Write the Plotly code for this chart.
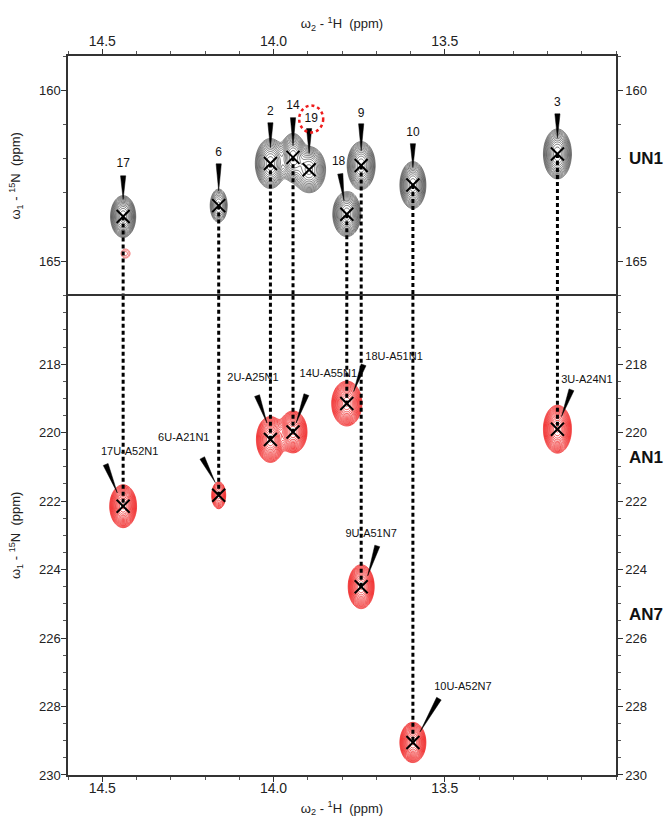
import numpy as np
import plotly.graph_objects as go

# ---------------- data ----------------
# 1H / 15N peak positions (ppm), top panel (UN1) and bottom panel (AN1 / AN7)
top_ids = ["17", "6", "2", "14", "19", "18", "9", "10", "3"]
top_h = [14.439, 14.160, 14.009, 13.943, 13.896, 13.786, 13.744, 13.593, 13.171]
top_n = [163.69, 163.37, 162.14, 161.96, 162.32, 163.62, 162.20, 162.77, 161.86]
top_sx = [0.0150, 0.0126, 0.0180, 0.0155, 0.0200, 0.0167, 0.0167, 0.0155, 0.0167]
top_sy = [0.250, 0.245, 0.298, 0.286, 0.280, 0.268, 0.286, 0.280, 0.298]
top_amp = [1.0, 0.35, 1.0, 1.0, 0.9, 1.0, 1.0, 1.0, 1.0]
top_lbl_h = [14.439, 14.160, 14.009, 13.943, 13.890, 13.810, 13.744, 13.593, 13.171]
top_lbl_n = [162.14, 161.82, 160.65, 160.45, 160.84, 162.11, 160.68, 161.25, 160.36]
top_ptr_h0 = [14.439, 14.160, 14.009, 13.943, 13.896, 13.805, 13.744, 13.593, 13.171]
top_ptr_n0 = [162.50, 162.15, 160.95, 160.80, 161.12, 162.44, 160.98, 161.56, 160.69]
top_ptr_h1 = [14.439, 14.160, 14.009, 13.943, 13.896, 13.794, 13.744, 13.593, 13.171]
top_ptr_n1 = [163.19, 162.94, 161.68, 161.62, 161.85, 163.23, 161.77, 162.26, 161.39]

# weak red artefact seen in the top panel
art_h = [14.432]
art_n = [164.77]

bot_ids = ["17U-A52N1", "6U-A21N1", "2U-A25N1", "14U-A55N1", "18U-A51N1",
           "9U-A51N7", "10U-A52N7", "3U-A24N1"]
bot_h = [14.439, 14.160, 14.009, 13.943, 13.786, 13.744, 13.593, 13.171]
bot_n = [222.15, 221.83, 220.20, 219.98, 219.15, 224.50, 229.05, 219.90]
bot_sx = [0.0160, 0.0108, 0.0167, 0.0167, 0.0180, 0.0155, 0.0155, 0.0167]
bot_sy = [0.256, 0.208, 0.274, 0.250, 0.268, 0.262, 0.240, 0.286]
bot_amp = [1.0, 0.30, 1.0, 1.0, 1.0, 1.0, 1.0, 1.0]
bot_lbl_h = [14.420, 14.262, 14.060, 13.840, 13.648, 13.715, 13.447, 13.085]
bot_lbl_n = [220.58, 220.17, 218.40, 218.31, 217.79, 222.97, 227.43, 218.46]
bot_ptr_h0 = [14.490, 14.208, 14.048, 13.904, 13.737, 13.697, 13.517, 13.130]
bot_ptr_n0 = [220.93, 220.74, 218.92, 218.89, 218.02, 223.31, 227.77, 218.75]
bot_ptr_h1 = [14.456, 14.170, 14.019, 13.934, 13.766, 13.725, 13.572, 13.159]
bot_ptr_n1 = [221.76, 221.46, 219.72, 219.72, 218.80, 224.18, 228.74, 219.53]

# top-panel peaks that connect to a bottom-panel peak (index top -> index bottom)
links_top = [0, 1, 2, 3, 5, 6, 7, 8]
links_bot = [0, 1, 2, 3, 4, 5, 6, 7]

# highlighted label (dashed red circle)
circ_h, circ_n = 13.890, 160.84

x_range = [14.6, 13.0]
top_range = [166.0, 159.0]
bot_range = [230.0, 216.0]
x_ticks = [14.5, 14.0, 13.5]
top_ticks = [160, 165]
bot_ticks = [218, 220, 222, 224, 226, 228, 230]
side_labels = ["UN1", "AN1", "AN7"]
side_label_n = [162.0, 220.73, 225.3]

# ---------------- layout geometry ----------------
W, H = 665, 821
ML, MR, MT, MB = 68, 49, 56, 46
PW, PH = W - ML - MR, H - MT - MB
ppx = PW / abs(x_range[0] - x_range[1])                       # px per ppm (1H)
ppy = PH / (abs(top_range[0] - top_range[1]) + abs(bot_range[0] - bot_range[1]))
split = abs(bot_range[0] - bot_range[1]) / (abs(top_range[0] - top_range[1]) + abs(bot_range[0] - bot_range[1]))

FONT = "Liberation Sans, Arial, Helvetica, sans-serif"


def field(xs, ys, hs, ns, sxs, sys_, amps):
    X, Y = np.meshgrid(xs, ys)
    I = np.zeros_like(X)
    for h, n, sx, sy, a in zip(hs, ns, sxs, sys_, amps):
        I += a * np.exp(-((X - h) ** 2 / (2 * sx ** 2) + (Y - n) ** 2 / (2 * sy ** 2)))
    return np.log10(np.maximum(I, 1e-8))


def wedges(h0, n0, h1, n1, half=2.6):
    xs, ys = [], []
    for a, b, c, d in zip(h0, n0, h1, n1):
        dx = -(c - a) * ppx
        dy = (d - b) * ppy
        L = (dx ** 2 + dy ** 2) ** 0.5
        nx, ny = -dy / L, dx / L
        xs += [a - nx * half / ppx, a + nx * half / ppx, c, a - nx * half / ppx, None]
        ys += [b + ny * half / ppy, b - ny * half / ppy, d, b + ny * half / ppy, None]
    return xs, ys


fig = go.Figure()

xs = np.linspace(x_range[0], x_range[1], 520)
ys_top = np.linspace(top_range[1], top_range[0], 260)
ys_bot = np.linspace(bot_range[1], bot_range[0], 520)

dash = "4px,3px"

# dashed connection lines
lx, ly, bx, by = [], [], [], []
for it, ib in zip(links_top, links_bot):
    lx += [top_h[it], top_h[it], None]
    ly += [top_n[it], top_range[0], None]
    bx += [bot_h[ib], bot_h[ib], None]
    by += [bot_range[1], bot_n[ib], None]
fig.add_trace(go.Scatter(x=lx, y=ly, mode="lines", xaxis="x", yaxis="y",
                         line=dict(color="black", width=3, dash=dash), hoverinfo="skip"))
fig.add_trace(go.Scatter(x=bx, y=by, mode="lines", xaxis="x2", yaxis="y2",
                         line=dict(color="black", width=3, dash=dash), hoverinfo="skip"))

# contours
ztop = field(xs, ys_top, top_h, top_n, top_sx, top_sy, top_amp)
fig.add_trace(go.Contour(x=xs, y=ys_top, z=ztop, xaxis="x", yaxis="y",
                         contours=dict(coloring="lines", start=-1.3, end=-0.02, size=0.1),
                         colorscale=[[0, "#444444"], [1, "#444444"]], showscale=False,
                         line=dict(width=0.7), hoverinfo="skip"))
zart = field(xs, ys_top, art_h, art_n, [0.010], [0.10], [0.12])
fig.add_trace(go.Contour(x=xs, y=ys_top, z=zart, xaxis="x", yaxis="y",
                         contours=dict(coloring="lines", start=-1.3, end=-0.02, size=0.15),
                         colorscale=[[0, "#f06060"], [1, "#f06060"]], showscale=False,
                         line=dict(width=0.8), hoverinfo="skip"))
zbot = field(xs, ys_bot, bot_h, bot_n, bot_sx, bot_sy, bot_amp)
fig.add_trace(go.Contour(x=xs, y=ys_bot, z=zbot, xaxis="x2", yaxis="y2",
                         contours=dict(coloring="lines", start=-1.3, end=-0.02, size=0.08),
                         colorscale=[[0, "#f02828"], [1, "#f02828"]], showscale=False,
                         line=dict(width=0.8), hoverinfo="skip"))

# pointers
wx, wy = wedges(top_ptr_h0, top_ptr_n0, top_ptr_h1, top_ptr_n1)
fig.add_trace(go.Scatter(x=wx, y=wy, mode="lines", fill="toself", fillcolor="black",
                         line=dict(width=0.5, color="black"), xaxis="x", yaxis="y", hoverinfo="skip"))
wx, wy = wedges(bot_ptr_h0, bot_ptr_n0, bot_ptr_h1, bot_ptr_n1)
fig.add_trace(go.Scatter(x=wx, y=wy, mode="lines", fill="toself", fillcolor="black",
                         line=dict(width=0.5, color="black"), xaxis="x2", yaxis="y2", hoverinfo="skip"))

# peak crosses
mk = dict(symbol="x-thin", size=13, line=dict(width=2, color="black"), color="black")
fig.add_trace(go.Scatter(x=top_h, y=top_n, mode="markers", marker=mk, xaxis="x", yaxis="y"))
fig.add_trace(go.Scatter(x=bot_h, y=bot_n, mode="markers", marker=mk, xaxis="x2", yaxis="y2"))

# labels
fig.add_trace(go.Scatter(x=top_lbl_h, y=top_lbl_n, mode="text", text=top_ids,
                         textfont=dict(family=FONT, size=12, color="#111"),
                         xaxis="x", yaxis="y", hoverinfo="skip"))
fig.add_trace(go.Scatter(x=bot_lbl_h, y=bot_lbl_n, mode="text", text=bot_ids,
                         textfont=dict(family=FONT, size=11, color="#111"),
                         xaxis="x2", yaxis="y2", hoverinfo="skip"))

# invisible traces for the mirrored (right-side) axes
fig.add_trace(go.Scatter(x=[x_range[0]], y=[top_range[0]], mode="markers", marker=dict(opacity=0),
                         xaxis="x", yaxis="y3", hoverinfo="skip"))
fig.add_trace(go.Scatter(x=[x_range[0]], y=[bot_range[0]], mode="markers", marker=dict(opacity=0),
                         xaxis="x2", yaxis="y4", hoverinfo="skip"))

# dashed red circle
rx, ry = 12 / ppx, 13.5 / ppy
fig.add_shape(type="circle", xref="x", yref="y", x0=circ_h + rx, x1=circ_h - rx,
              y0=circ_n - ry, y1=circ_n + ry, line=dict(color="#ee1c1c", width=2.5, dash="3px,3px"))

axis_common = dict(showline=True, linecolor="#333", linewidth=1.5, ticks="outside",
                   tickcolor="#333", tickwidth=1, ticklen=5, showgrid=False, zeroline=False,
                   automargin=False,
                   tickfont=dict(family=FONT, size=14, color="#222"))
xtitle = dict(text="ω<sub>2</sub> - <sup>1</sup>H  (ppm)", font=dict(family=FONT, size=13, color="#222"))
ytitle = dict(text="ω<sub>1</sub> - <sup>15</sup>N  (ppm)", font=dict(family=FONT, size=13, color="#222"))

fig.update_layout(
    width=W, height=H, margin=dict(l=ML, r=MR, t=MT, b=MB, autoexpand=False),
    paper_bgcolor="white", plot_bgcolor="white", showlegend=False,
    xaxis=dict(axis_common, domain=[0, 1], anchor="y", side="top", range=x_range,
               tickvals=x_ticks, ticktext=[f"{v:.1f}" for v in x_ticks], mirror=False,
               ticklabelstandoff=-2,
               minor=dict(dtick=0.1, ticks="outside", ticklen=3, tickcolor="#555"),
               title=dict(xtitle, standoff=1)),
    yaxis=dict(axis_common, domain=[split, 1], anchor="x", range=top_range,
               tickvals=top_ticks, minor=dict(dtick=1, ticks="outside", ticklen=3, tickcolor="#555"),
               tickfont=dict(family=FONT, size=13, color="#222"), ticklabelstandoff=-2,
               title=dict(ytitle)),
    yaxis3=dict(axis_common, overlaying="y", side="right", anchor="x", range=top_range,
                tickvals=top_ticks, minor=dict(dtick=1, ticks="outside", ticklen=3, tickcolor="#555"),
                tickfont=dict(family=FONT, size=13, color="#222")),
    xaxis2=dict(axis_common, domain=[0, 1], anchor="y2", side="bottom", range=x_range,
                tickvals=x_ticks, ticktext=[f"{v:.1f}" for v in x_ticks], mirror=True,
                ticklabelstandoff=-6,
                minor=dict(dtick=0.1, ticks="outside", ticklen=3, tickcolor="#555"),
                title=dict(xtitle, standoff=9)),
    yaxis2=dict(axis_common, domain=[0, split], anchor="x2", range=bot_range,
                tickvals=bot_ticks, minor=dict(dtick=0.5, ticks="outside", ticklen=3, tickcolor="#555"),
                tickfont=dict(family=FONT, size=13, color="#222"), ticklabelstandoff=-2,
                title=dict(ytitle)),
    yaxis4=dict(axis_common, overlaying="y2", side="right", anchor="x2", range=bot_range,
                tickvals=bot_ticks, minor=dict(dtick=0.5, ticks="outside", ticklen=3, tickcolor="#555"),
                tickfont=dict(family=FONT, size=13, color="#222")),
)

for lab, n, ax in zip(side_labels, side_label_n, ["y", "y2", "y2"]):
    fig.add_annotation(text=f"<b>{lab}</b>", xref="paper", x=1.054, yref=ax, y=n,
                       showarrow=False, xanchor="center", yanchor="middle",
                       font=dict(family=FONT, size=17, color="#111"))

fig.write_html("out.html", config={"displayModeBar": False},
               post_script="document.body.style.margin='0px';")
